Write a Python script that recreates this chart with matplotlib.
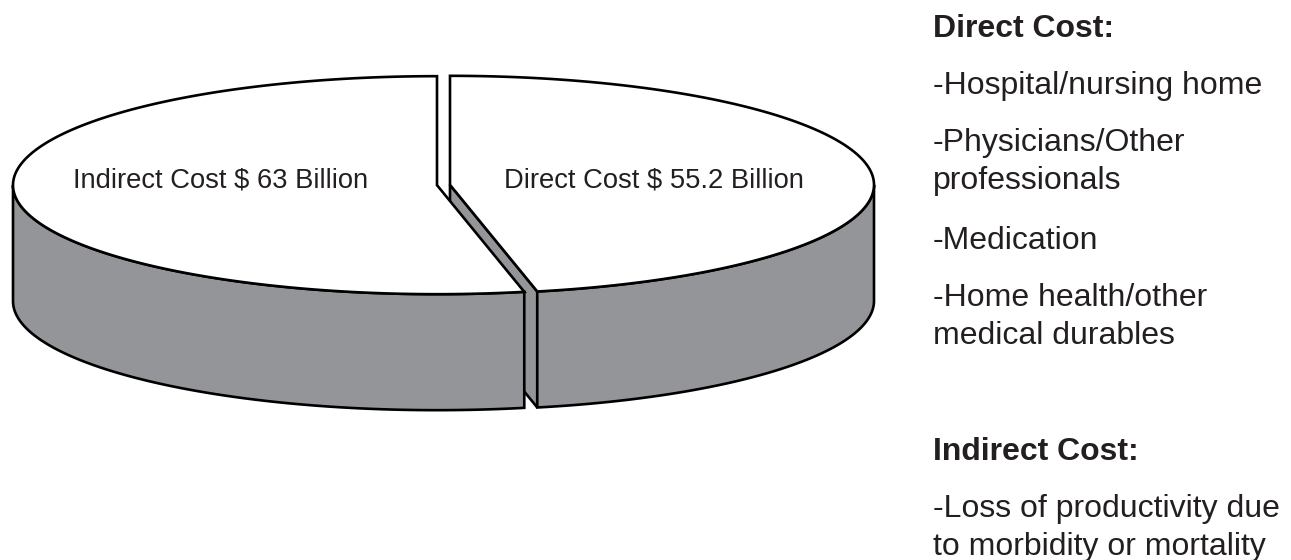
import numpy as np
import matplotlib.pyplot as plt
from matplotlib.patches import Polygon

plt.rcParams['font.family'] = ['Liberation Sans', 'DejaVu Sans']

# Data
slice_labels = ['Indirect Cost $ 63 Billion', 'Direct Cost $ 55.2 Billion']
slice_values = [63, 55.2]
direct_items = ['-Hospital/nursing home', '-Physicians/Other\nprofessionals',
                '-Medication', '-Home health/other\nmedical durables']
indirect_items = ['-Loss of productivity due\nto morbidity or mortality']

gray = '#939598'
ink = '#231f20'

fig = plt.figure(figsize=(12.91, 5.6), dpi=100)
ax = fig.add_axes([0, 0, 1, 1])
ax.set_xlim(0, 1291)
ax.set_ylim(560, 0)
ax.axis('off')

# 3D pie geometry (pixel space, y down)
cx, cy = 443.5, 185
a, b = 424, 109
depth = 116
explode = 0.0154


def rim(t, ox, oy, dz=0.0):
    return np.column_stack([cx + ox + a * np.cos(t), cy + oy - b * np.sin(t) + dz])


fracs = np.array(slice_values) / sum(slice_values)
bounds = np.deg2rad(90 + 360 * np.concatenate([[0], np.cumsum(fracs)]))

faces, walls, tops = [], [], []
for i in range(len(slice_values)):
    t1, t2 = bounds[i], bounds[i + 1]
    mid = (t1 + t2) / 2
    ox, oy = explode * a * np.cos(mid), -explode * b * np.sin(mid)
    centre = np.array([[cx + ox, cy + oy]])
    down = np.array([[0, depth]])

    # radial cut faces that face the viewer
    for t, sgn in ((t1, 1), (t2, -1)):
        if sgn * np.cos(t) > 1e-6:
            p = rim(np.array([t]), ox, oy)
            faces.append(np.vstack([centre, p, p + down, centre + down]))

    # outer wall, front half only
    for lo, hi in ((np.pi, 2 * np.pi), (3 * np.pi, 4 * np.pi)):
        s, e = max(t1, lo), min(t2, hi)
        if e > s:
            tt = np.linspace(s, e, 200)
            top = rim(tt, ox, oy)
            walls.append(np.vstack([top, (top + down)[::-1]]))

    tt = np.linspace(t1, t2, 400)
    tops.append(np.vstack([centre, rim(tt, ox, oy)]))

for pts in faces:
    ax.add_patch(Polygon(pts, closed=True, fc=gray, ec='black', lw=1.9, zorder=1))
for pts in walls:
    ax.add_patch(Polygon(pts, closed=True, fc=gray, ec='black', lw=1.9, zorder=2))
for pts in tops:
    ax.add_patch(Polygon(pts, closed=True, fc='white', ec='black', lw=1.9, zorder=3))

# slice labels on the top face
label_x = [cx - 0.525 * a, cx + 0.497 * a]
for lab, x in zip(slice_labels, label_x):
    ax.text(x, 188, lab, ha='center', va='baseline', fontsize=19.7, color=ink, zorder=4)

# side notes
x0 = 933
fs = 23


def block(title, items, y):
    ax.text(x0, y, title, fontsize=fs, fontweight='bold', color=ink, va='baseline')
    for item in items:
        lines = item.split('\n')
        y += 57
        for j, line in enumerate(lines):
            if j:
                y += 38
            ax.text(x0, y, line, fontsize=fs, color=ink, va='baseline')
        if len(lines) > 1:
            y += 3
    return y


block('Direct Cost:', direct_items, 37)
block('Indirect Cost:', indirect_items, 460)

fig.savefig('out.png', dpi=100, facecolor='white')
